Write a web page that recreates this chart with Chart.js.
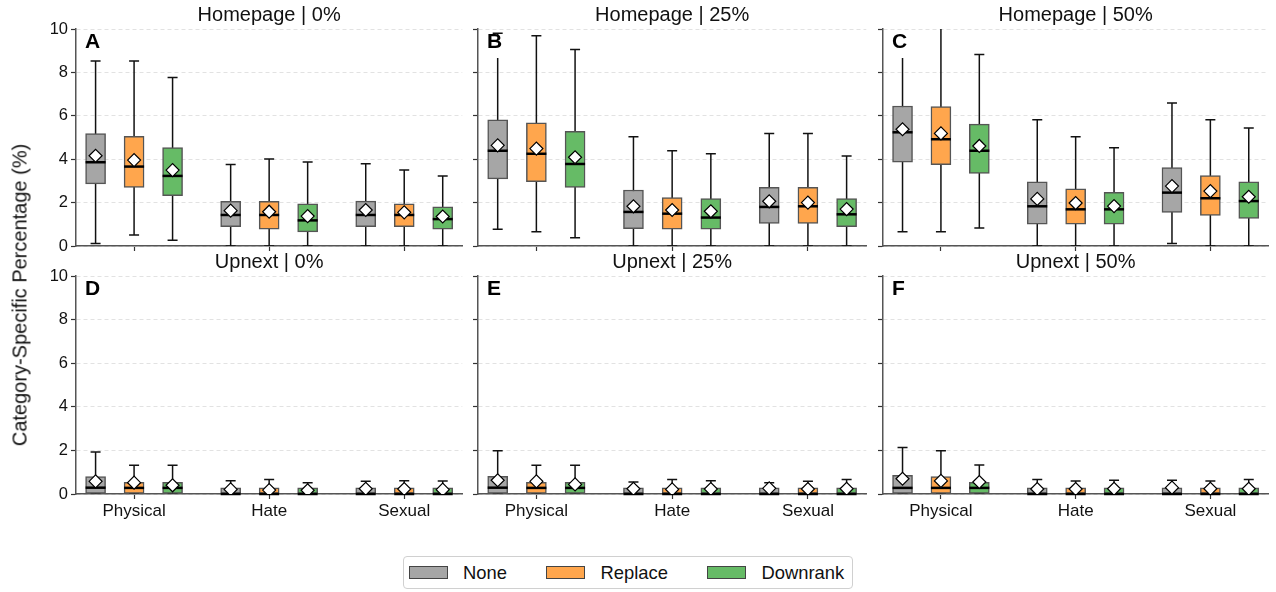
<!DOCTYPE html>
<html>
<head>
<meta charset="utf-8">
<script src="https://cdn.jsdelivr.net/npm/chart.js@4.4.0/dist/chart.umd.min.js"></script>
<style>
  body { margin: 0; background: #fff; font-family: "Liberation Sans", Arial, sans-serif; }
  #wrap { position: relative; width: 1276px; height: 592px; overflow: hidden; }
  canvas { position: absolute; }
  #ytitle { position: absolute; left: 20px; top: 295px; transform: translate(-50%, -50%) rotate(-90deg);
            font-size: 20px; color: #111; white-space: nowrap; }
  #legend { position: absolute; left: 403px; top: 556px; width: 450px; height: 33px; box-sizing: border-box;
            border: 1px solid #d0d0d0; border-radius: 4px; display: flex; align-items: center;
            padding-left: 5px; font-size: 18.4px; color: #111; }
  #legend .sw { flex-shrink: 0; width: 37px; height: 11px; border: 1px solid #444; margin-right: 15px; }
  #legend .lab { flex-shrink: 0; margin-right: 39.5px; white-space: nowrap; }
  #legend .lab:last-child { margin-right: 0; }
</style>
</head>
<body>
<div id="wrap">
  <canvas id="pA" width="470" height="258" style="left:0;top:0"></canvas>
  <canvas id="pB" width="408" height="258" style="left:466px;top:0"></canvas>
  <canvas id="pC" width="403" height="258" style="left:873px;top:0"></canvas>
  <canvas id="pD" width="470" height="277" style="left:0;top:247px"></canvas>
  <canvas id="pE" width="408" height="277" style="left:466px;top:247px"></canvas>
  <canvas id="pF" width="403" height="277" style="left:873px;top:247px"></canvas>
  <div id="ytitle">Category-Specific Percentage (%)</div>
  <div id="legend"></div>
</div>
<script>
const categories = ['Physical', 'Hate', 'Sexual'];
const groups = ['None', 'Replace', 'Downrank'];
const groupColors = ['#a6a6a6', '#ffa64d', '#66bb66'];
const groupShift = [-0.285, 0, 0.285];
const yTicks = [0, 2, 4, 6, 8, 10];

// one row per category: [whisker low, q1, median, q3, whisker high, mean]
const A_none     = [[0.12, 2.86, 3.86, 5.18, 8.53, 4.16], [0, 0.89, 1.43, 2.06, 3.76, 1.63], [0, 0.89, 1.43, 2.07, 3.79, 1.66]];
const A_replace  = [[0.51, 2.70, 3.66, 5.05, 8.53, 3.96], [0, 0.77, 1.43, 2.06, 4.01, 1.58], [0, 0.89, 1.43, 1.94, 3.50, 1.55]];
const A_downrank = [[0.26, 2.32, 3.23, 4.53, 7.76, 3.50], [0, 0.65, 1.18, 1.94, 3.87, 1.38], [0, 0.78, 1.24, 1.80, 3.23, 1.36]];

const B_none     = [[0.77, 3.09, 4.39, 5.82, 9.80, 4.64], [0, 0.80, 1.57, 2.58, 5.04, 1.83], [0, 1.04, 1.80, 2.70, 5.18, 2.06]];
const B_replace  = [[0.66, 2.96, 4.25, 5.68, 9.69, 4.49], [0, 0.77, 1.49, 2.23, 4.39, 1.66], [0, 1.04, 1.83, 2.70, 5.18, 2.00]];
const B_downrank = [[0.38, 2.70, 3.78, 5.28, 9.05, 4.09], [0, 0.77, 1.31, 2.18, 4.25, 1.60], [0, 0.89, 1.46, 2.18, 4.15, 1.70]];

const C_none     = [[0.66, 3.86, 5.24, 6.45, 9.40, 5.38], [0, 1.01, 1.83, 2.96, 5.82, 2.17], [0.12, 1.55, 2.46, 3.61, 6.59, 2.76]];
const C_replace  = [[0.66, 3.75, 4.92, 6.42, 10.6, 5.19], [0, 1.01, 1.69, 2.64, 5.04, 1.98], [0, 1.41, 2.20, 3.24, 5.82, 2.53]];
const C_downrank = [[0.83, 3.35, 4.39, 5.62, 8.82, 4.61], [0, 1.01, 1.69, 2.47, 4.53, 1.84], [0, 1.27, 2.07, 2.96, 5.44, 2.27]];

const D_none     = [[0, 0, 0.29, 0.80, 1.93, 0.58], [0, 0, 0, 0.28, 0.61, 0.21], [0, 0, 0, 0.28, 0.58, 0.24]];
const D_replace  = [[0, 0, 0.28, 0.54, 1.32, 0.52], [0, 0, 0, 0.28, 0.66, 0.18], [0, 0, 0, 0.28, 0.61, 0.23]];
const D_downrank = [[0, 0, 0.28, 0.54, 1.32, 0.40], [0, 0, 0, 0.28, 0.52, 0.17], [0, 0, 0, 0.28, 0.60, 0.20]];

const E_none     = [[0, 0, 0.29, 0.81, 1.98, 0.63], [0, 0, 0, 0.28, 0.55, 0.24], [0, 0, 0, 0.28, 0.52, 0.26]];
const E_replace  = [[0, 0, 0.28, 0.54, 1.32, 0.58], [0, 0, 0, 0.28, 0.66, 0.21], [0, 0, 0, 0.28, 0.58, 0.23]];
const E_downrank = [[0, 0, 0.28, 0.54, 1.32, 0.44], [0, 0, 0, 0.28, 0.61, 0.23], [0, 0, 0, 0.28, 0.66, 0.24]];

const F_none     = [[0, 0, 0.28, 0.86, 2.13, 0.70], [0, 0, 0, 0.28, 0.66, 0.23], [0, 0, 0, 0.28, 0.63, 0.29]];
const F_replace  = [[0, 0, 0.28, 0.80, 1.98, 0.60], [0, 0, 0, 0.28, 0.60, 0.23], [0, 0, 0, 0.28, 0.60, 0.24]];
const F_downrank = [[0, 0, 0.28, 0.54, 1.33, 0.55], [0, 0, 0, 0.28, 0.63, 0.24], [0, 0, 0, 0.28, 0.66, 0.24]];

const panels = [
  { id: 'pA', letter: 'A', title: 'Homepage | 0%',  stats: [A_none, A_replace, A_downrank], leftCol: true,  bottomRow: false, axisW: 76, padR: 5 },
  { id: 'pB', letter: 'B', title: 'Homepage | 25%', stats: [B_none, B_replace, B_downrank], leftCol: false, bottomRow: false, axisW: 12, padR: 6 },
  { id: 'pC', letter: 'C', title: 'Homepage | 50%', stats: [C_none, C_replace, C_downrank], leftCol: false, bottomRow: false, axisW: 10, padR: 5 },
  { id: 'pD', letter: 'D', title: 'Upnext | 0%',    stats: [D_none, D_replace, D_downrank], leftCol: true,  bottomRow: true,  axisW: 76, padR: 5 },
  { id: 'pE', letter: 'E', title: 'Upnext | 25%',   stats: [E_none, E_replace, E_downrank], leftCol: false, bottomRow: true,  axisW: 12, padR: 6 },
  { id: 'pF', letter: 'F', title: 'Upnext | 50%',   stats: [F_none, F_replace, F_downrank], leftCol: false, bottomRow: true,  axisW: 10, padR: 5 }
];

Chart.defaults.font.family = '"Liberation Sans", Arial, sans-serif';
Chart.defaults.color = '#111';

// whiskers under the boxes, medians over them, panel letter on top
const boxParts = {
  id: 'boxParts',
  beforeDatasetsDraw(chart) {
    const { ctx, chartArea, scales: { x, y } } = chart;
    ctx.save();
    ctx.beginPath();
    ctx.rect(chartArea.left, chartArea.top, chartArea.width, chartArea.height);
    ctx.clip();
    ctx.strokeStyle = '#111';
    ctx.lineWidth = 1.5;
    chart.data.datasets.forEach(ds => {
      if (!ds.stats) return;
      ds.stats.forEach((s, i) => {
        const cx = x.getPixelForValue(i + ds.shift);
        const lo = y.getPixelForValue(s[0]);
        const hi = y.getPixelForValue(s[4]);
        ctx.beginPath();
        ctx.moveTo(cx, lo); ctx.lineTo(cx, hi);
        ctx.moveTo(cx - 5, lo); ctx.lineTo(cx + 5, lo);
        ctx.moveTo(cx - 5, hi); ctx.lineTo(cx + 5, hi);
        ctx.stroke();
      });
    });
    ctx.restore();
  },
  afterDatasetDraw(chart, args) {
    const ds = chart.data.datasets[args.index];
    if (!ds.stats) return;
    const { ctx, scales: { x, y } } = chart;
    ctx.save();
    ctx.strokeStyle = '#000';
    ctx.lineWidth = 2.5;
    ds.stats.forEach((s, i) => {
      const cx = x.getPixelForValue(i + ds.shift);
      const my = y.getPixelForValue(s[2]);
      ctx.beginPath();
      ctx.moveTo(cx - 10, my); ctx.lineTo(cx + 10, my);
      ctx.stroke();
    });
    ctx.restore();
  },
  afterDatasetsDraw(chart, args, opts) {
    const { ctx, chartArea } = chart;
    ctx.save();
    ctx.font = 'bold 21px "Liberation Sans", Arial, sans-serif';
    const w = ctx.measureText(opts.letter).width;
    const tx = chartArea.left + 9;
    ctx.fillStyle = '#fff';
    ctx.fillRect(tx - 4, chartArea.top + 7, w + 8, 22);
    ctx.fillStyle = '#000';
    ctx.textBaseline = 'middle';
    ctx.fillText(opts.letter, tx, chartArea.top + 13);
    ctx.restore();
  }
};

function makePanel(p) {
  const datasets = [];
  p.stats.forEach((stats, g) => {
    datasets.push({
      type: 'bar',
      label: groups[g],
      order: 2,
      stats: stats,
      shift: groupShift[g],
      data: stats.map((s, i) => ({ x: i + groupShift[g], y: [s[1], s[3]] })),
      backgroundColor: groupColors[g],
      borderColor: '#555',
      borderWidth: 1.5,
      borderSkipped: false,
      grouped: false,
      barThickness: 20
    });
  });
  p.stats.forEach((stats, g) => {
    datasets.push({
      type: 'scatter',
      label: groups[g] + ' mean',
      order: 0,
      data: stats.map((s, i) => ({ x: i + groupShift[g], y: s[5] })),
      pointStyle: 'rectRot',
      radius: 6.5,
      backgroundColor: '#fff',
      borderColor: '#000',
      borderWidth: 1.2
    });
  });

  new Chart(document.getElementById(p.id), {
    type: 'bar',
    data: { datasets },
    plugins: [boxParts],
    options: {
      responsive: false,
      animation: false,
      events: [],
      layout: { padding: { left: 0, right: p.padR, top: 0, bottom: 0 } },
      plugins: {
        legend: { display: false },
        tooltip: { enabled: false },
        title: {
          display: true, text: p.title, fullSize: false, color: '#111',
          font: { size: 20, weight: 'normal' }, padding: { top: 3, bottom: 2 }
        },
        boxParts: { letter: p.letter }
      },
      scales: {
        x: {
          type: 'linear', min: -0.43, max: 2.43, offset: false,
          afterBuildTicks: s => { s.ticks = categories.map((c, i) => ({ value: i })); },
          afterFit: s => {
            s.height = p.bottomRow ? 30 : 12;
            s.paddingLeft = 0; s.paddingRight = 0;
          },
          grid: { drawOnChartArea: false, offset: false, tickLength: 5, tickColor: '#333', tickWidth: 1.2 },
          border: { color: '#555', width: 1.5 },
          ticks: { display: p.bottomRow, callback: v => categories[v], font: { size: 17 }, padding: 2, maxRotation: 0, autoSkip: false }
        },
        y: {
          min: 0, max: 10,
          afterBuildTicks: s => { s.ticks = yTicks.map(v => ({ value: v })); },
          afterFit: s => {
            s.width = p.axisW;
            s.paddingTop = 0; s.paddingBottom = 0;
          },
          grid: { color: '#e2e2e2', tickColor: '#333', tickLength: 5, tickWidth: 1.2, tickBorderDash: [] },
          border: { color: '#555', width: 1.5, dash: [4, 3] },
          ticks: { display: p.leftCol, font: { size: 16.5 }, padding: 3 }
        }
      }
    }
  });
}

panels.forEach(makePanel);

const legend = document.getElementById('legend');
groups.forEach((g, i) => {
  const sw = document.createElement('span');
  sw.className = 'sw';
  sw.style.background = groupColors[i];
  const lab = document.createElement('span');
  lab.className = 'lab';
  lab.textContent = g;
  legend.appendChild(sw);
  legend.appendChild(lab);
});
</script>
</body>
</html>
